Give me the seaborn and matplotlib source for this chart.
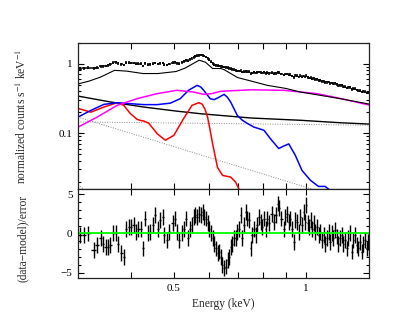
import matplotlib
matplotlib.use("Agg")
import matplotlib.pyplot as plt
import numpy as np
import pandas as pd
import seaborn as sns
from matplotlib.ticker import FixedLocator, FixedFormatter, NullFormatter, MultipleLocator

# channel energies (keV), spectrum and residuals
energy = [0.305, 0.311, 0.3185, 0.328, 0.334, 0.340, 0.3445, 0.349, 0.3536, 0.358,
          0.363, 0.368, 0.3727, 0.379, 0.3846, 0.389, 0.3947, 0.3995, 0.4044, 0.410,
          0.415, 0.421, 0.4247, 0.430, 0.436, 0.4415, 0.4477, 0.453, 0.4596, 0.465,
          0.4716, 0.4757, 0.4817, 0.4883, 0.497, 0.503,
          0.5083, 0.5144, 0.5208, 0.5263, 0.5326, 0.5374, 0.5439, 0.5487, 0.5546, 0.5585,
          0.5644, 0.5713, 0.5764, 0.5815, 0.5864, 0.5916, 0.597, 0.602, 0.6074, 0.6129,
          0.618, 0.6236, 0.629, 0.6344, 0.64, 0.6457, 0.6511, 0.657, 0.663, 0.6683,
          0.6743, 0.6803, 0.686, 0.692, 0.698, 0.7037, 0.7101, 0.7165, 0.7225, 0.729,
          0.7355, 0.7418, 0.7484, 0.755, 0.7614, 0.7683, 0.7751, 0.7818, 0.7888, 0.7959,
          0.8026, 0.81, 0.8172, 0.824,
          0.8356, 0.8459, 0.8534, 0.8654, 0.8713, 0.8806, 0.8913, 0.8992, 0.9072, 0.915,
          0.9231, 0.9313, 0.9391, 0.9475, 0.956, 0.964, 0.9727, 0.9813, 0.9896, 0.9984,
          1.0037, 1.0127, 1.0195, 1.0266, 1.034, 1.0428, 1.052, 1.0614, 1.0703, 1.0799,
          1.0896, 1.099, 1.1087, 1.1185, 1.128, 1.1379, 1.148, 1.1577, 1.1683, 1.1787,
          1.1885, 1.1993, 1.2097, 1.2201, 1.2309, 1.242, 1.2524, 1.2637, 1.2751, 1.2857,
          1.2972, 1.3086, 1.3198, 1.3315, 1.3435, 1.3546, 1.3668, 1.3789, 1.3907]

flux = [0.846, 0.856, 0.870, 0.853, 0.876, 0.916, 0.919, 0.929, 0.948, 0.972,
        1.031, 1.051, 1.016, 0.975, 0.953, 1.035, 1.030, 1.020, 1.026, 0.995,
        0.995, 0.995, 0.924, 1.016, 0.971, 0.975, 0.995, 1.026, 0.985, 1.011,
        1.021, 0.970, 0.959, 0.990, 1.027, 1.048,
        1.015, 0.998, 1.041, 1.076, 1.11, 1.10, 1.15, 1.19, 1.24, 1.27,
        1.30, 1.32, 1.33, 1.32, 1.29, 1.25, 1.20, 1.14, 1.07, 1.01,
        0.97, 0.945, 0.93, 0.925, 0.92, 0.905, 0.895, 0.885, 0.87, 0.86,
        0.845, 0.83, 0.815, 0.80, 0.784, 0.782, 0.79, 0.76, 0.765, 0.775,
        0.77, 0.765, 0.72, 0.736, 0.746, 0.731, 0.749, 0.76, 0.752, 0.734,
        0.75, 0.726, 0.74, 0.728,
        0.738, 0.716, 0.728, 0.749, 0.737, 0.712, 0.685, 0.707, 0.71, 0.69,
        0.691, 0.666, 0.636, 0.676, 0.669, 0.643, 0.668, 0.647, 0.667, 0.643,
        0.674, 0.632, 0.62, 0.63, 0.609, 0.614, 0.593, 0.596, 0.575, 0.575,
        0.554, 0.557, 0.535, 0.538, 0.543, 0.519, 0.527, 0.512, 0.518, 0.501,
        0.484, 0.486, 0.485, 0.465, 0.465, 0.447, 0.456, 0.458, 0.425, 0.436,
        0.437, 0.417, 0.407, 0.41, 0.391, 0.397, 0.395, 0.379, 0.383]

resid = [-0.2, -0.2, 0.0, -2.1, -1.5, -0.6, -1.3, -1.7, -1.7, -1.5,
         0.05, 0.05, -1.3, -2.5, -3.0, 0.6, 0.8, 0.8, 1.05, 0.2,
         0.6, 0.6, -1.9, 1.9, 0.05, 0.2, 1.05, 2.3, 0.6, 1.7,
         2.1, -0.2, -0.85, 0.2, 1.3, 1.9,
         0.2, -0.85, 0.05, 0.6, 1.9, -0.6, 0.6, 1.05, 2.1, 2.3,
         2.1, 2.5, 2.3, 2.7, 2.1, 1.9, 1.3, 0.6, 0.05, -0.6,
         -1.3, -1.9, -2.5, -2.3, -3.0, -4.0, -4.4, -4.2, -3.4, -3.0,
         -1.7, -1.3, -0.6, -0.6, 0.2, 0.6, 2.3, -0.6, 1.05, 2.7,
         1.9, 1.7, -1.9, -0.2, 0.6, -0.2, 1.05, 2.1, 1.5, 0.8,
         1.9, 0.6, 1.9, 1.3,
         2.5, 1.5, 2.3, 3.8, 3.2, 1.9, 0.6, 2.1, 2.5, 1.5,
         1.9, 0.6, -1.05, 1.7, 1.5, 0.2, 2.1, 1.05, 2.7, 1.5,
         3.6, 1.3, 0.8, 1.7, 0.6, 1.3, 0.2, 0.8, -0.2, 0.2,
         -0.85, -0.2, -1.3, -0.6, 0.2, -1.05, 0.05, -0.6, 0.4, -0.4,
         -1.3, -0.6, -0.2, -1.3, -0.85, -1.9, -0.6, 0.05, -2.3, -0.85,
         -0.2, -1.5, -1.9, -1.05, -2.3, -1.3, -0.85, -1.9, -1.05]

flux_rel_err = 0.045

# model curves (energy, value)
total_e = [0.302, 0.32, 0.34, 0.366, 0.39, 0.425, 0.46, 0.506, 0.53, 0.55, 0.571, 0.59,
           0.613, 0.64, 0.651, 0.699, 0.76, 0.817, 0.9, 0.973, 1.05, 1.2, 1.395]
total_v = [0.51, 0.56, 0.64, 0.80, 0.78, 0.72, 0.72, 0.77, 0.86, 0.98, 1.12, 1.05,
           0.85, 0.85, 0.82, 0.63, 0.55, 0.487, 0.44, 0.39, 0.36, 0.313, 0.262]

mag_e = [0.302, 0.334, 0.371, 0.412, 0.458, 0.508, 0.555, 0.585, 0.61, 0.64,
         0.75, 0.891, 1.061, 1.2, 1.395]
mag_v = [0.122, 0.17, 0.251, 0.313, 0.37, 0.413, 0.39, 0.361, 0.37, 0.40,
         0.42, 0.413, 0.37, 0.315, 0.254]

blue_e = [0.302, 0.323, 0.346, 0.371, 0.398, 0.427, 0.458, 0.491, 0.517, 0.54,
          0.565, 0.576, 0.585, 0.597, 0.605, 0.618, 0.635, 0.651, 0.662, 0.674,
          0.698, 0.717, 0.74, 0.762, 0.803, 0.831, 0.868, 0.89, 0.915, 0.947,
          0.981, 1.025, 1.07, 1.108, 1.138]
blue_v = [0.17, 0.212, 0.259, 0.274, 0.265, 0.257, 0.257, 0.27, 0.313, 0.413,
          0.487, 0.46, 0.413, 0.35, 0.313, 0.303, 0.33, 0.361, 0.33, 0.28,
          0.18, 0.153, 0.135, 0.122, 0.11, 0.083, 0.06, 0.065, 0.07, 0.048,
          0.029, 0.021, 0.0171, 0.0171, 0.015]

red_e = [0.302, 0.323, 0.346, 0.371, 0.384, 0.398, 0.412, 0.42, 0.427, 0.438,
         0.458, 0.478, 0.5, 0.526, 0.55, 0.57, 0.58, 0.589, 0.597, 0.605,
         0.613, 0.629, 0.646, 0.674, 0.692, 0.708]
red_v = [0.227, 0.20, 0.237, 0.274, 0.251, 0.19, 0.158, 0.152, 0.149, 0.139,
         0.098, 0.079, 0.093, 0.161, 0.251, 0.274, 0.262, 0.22, 0.17, 0.11,
         0.07, 0.032, 0.0246, 0.0233, 0.0197, 0.0145]

pl_e = [0.302, 0.359, 0.427, 0.508, 0.576, 0.75, 0.973, 1.2, 1.395]
pl_v = [0.341, 0.28, 0.237, 0.207, 0.19, 0.165, 0.153, 0.141, 0.135]

dot1_e = [0.302, 1.395]
dot1_v = [0.145, 0.13]
dot2_e = [0.302, 1.04]
dot2_v = [0.17, 0.0155]
dot3_e = [0.302, 0.314]
dot3_v = [0.018, 0.015]

sns.set_style("ticks")
plt.rcParams["font.family"] = ["Liberation Serif", "DejaVu Serif"]
plt.rcParams["mathtext.fontset"] = "stix"
plt.rcParams["font.size"] = 8

fig = plt.figure(figsize=(4.15, 3.21), dpi=100)
ax1 = fig.add_axes([0.188, 0.410, 0.701, 0.457])
ax2 = fig.add_axes([0.188, 0.133, 0.701, 0.277], sharex=ax1)

e = np.array(energy)
f = np.array(flux)
xerr = np.gradient(e) / 2

ax1.set_xscale("log")
ax1.set_yscale("log")

def curve(ax, xs, ys, color, lw=1.1, ls="-"):
    d = pd.DataFrame({"E": xs, "v": ys})
    sns.lineplot(data=d, x="E", y="v", ax=ax, color=color, lw=lw, ls=ls,
                 sort=False, estimator=None)

dots = (0, (1, 1.5))
curve(ax1, dot1_e, dot1_v, "#888888", lw=0.7, ls=dots)
curve(ax1, dot2_e, dot2_v, "#888888", lw=0.7, ls=dots)
curve(ax1, dot3_e, dot3_v, "#888888", lw=0.7, ls=dots)
curve(ax1, pl_e, pl_v, "black", lw=1.0)
curve(ax1, red_e, red_v, "#ff0000")
curve(ax1, blue_e, blue_v, "#0000ff")
curve(ax1, mag_e, mag_v, "#ff00ff")
curve(ax1, total_e, total_v, "black", lw=0.8)
ax1.errorbar(e, f, xerr=xerr, yerr=f * flux_rel_err, fmt="none",
             ecolor="black", elinewidth=1.1, capsize=0)

ax2.errorbar(e, resid, xerr=xerr, yerr=1.0, fmt="none",
             ecolor="black", elinewidth=1.0, capsize=0)
ax2.axhline(0, color="#00ff00", lw=1.3)

ax1.set_xlim(0.302, 1.395)
ax1.set_ylim(0.0155, 2.0)
ax2.set_ylim(-5.7, 5.6)

xt = [0.3, 0.4, 0.5, 0.6, 0.7, 0.8, 0.9, 1.0]
xl = ["", "", "0.5", "", "", "", "", "1"]
for ax in (ax1, ax2):
    ax.xaxis.set_major_locator(FixedLocator(xt))
    ax.xaxis.set_minor_locator(FixedLocator([]))
    ax.tick_params(which="both", direction="in", top=True, right=True,
                   width=0.8, colors="black", labelsize=8, pad=4)
    ax.tick_params(which="major", length=4.5)
    ax.tick_params(which="minor", length=2.5)
    for s in ax.spines.values():
        s.set_linewidth(0.9)
        s.set_color("#222222")
ax2.xaxis.set_major_formatter(FixedFormatter(xl))
ax1.tick_params(labelbottom=False)

ax1.yaxis.set_major_locator(FixedLocator([0.1, 1.0]))
ax1.yaxis.set_major_formatter(FixedFormatter(["0.1", "1"]))
ax1.yaxis.set_minor_locator(FixedLocator([0.02, 0.03, 0.04, 0.05, 0.06, 0.07, 0.08, 0.09,
                                          0.2, 0.3, 0.4, 0.5, 0.6, 0.7, 0.8, 0.9, 2.0]))
ax1.yaxis.set_minor_formatter(NullFormatter())

ax2.yaxis.set_major_locator(FixedLocator([-5, 0, 5]))
ax2.yaxis.set_major_formatter(FixedFormatter(["\u22125", "0", "5"]))
ax2.yaxis.set_minor_locator(MultipleLocator(1))

ax1.set_xlabel("")
ax1.set_ylabel("normalized counts s$^{-1}$ keV$^{-1}$", fontsize=8.3)
ax2.set_ylabel("(data\u2212model)/error", fontsize=8.3)
ax2.set_xlabel("Energy (keV)", fontsize=8.3)
ax1.yaxis.set_label_coords(-0.17, 0.5)
ax2.yaxis.set_label_coords(-0.17, 0.45)

fig.savefig("out.png", dpi=100)
